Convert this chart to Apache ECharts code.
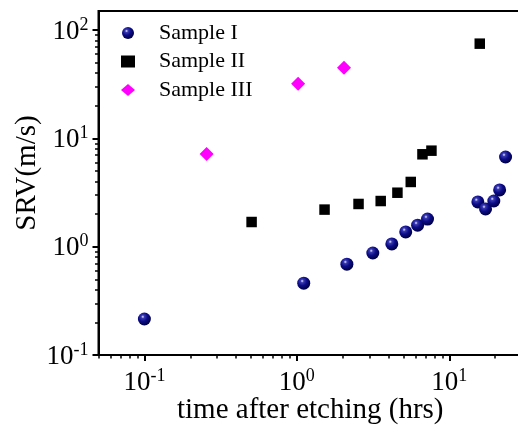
<!DOCTYPE html>
<html><head><meta charset="utf-8">
<script src="https://cdn.jsdelivr.net/npm/echarts@6/dist/echarts.min.js"></script>
<style>html,body{margin:0;padding:0;background:#fff}#c{width:518px;height:426px}</style>
</head><body><div id="c"></div>
<script>
// Data (time in hrs, SRV in m/s)
const s1Time = [0.1, 1.11, 2.13, 3.15, 4.2, 5.18, 6.2, 7.2, 15.4, 17.3, 19.6, 21.4, 23.4];
const s1Srv  = [0.215, 0.46, 0.69, 0.875, 1.06, 1.37, 1.58, 1.8, 2.59, 2.23, 2.64, 3.34, 6.73];
const s2Time = [0.505, 1.52, 2.54, 3.55, 4.57, 5.59, 6.67, 7.64, 15.85];
const s2Srv  = [1.69, 2.2, 2.48, 2.64, 3.15, 3.96, 7.13, 7.7, 74.9];
const s3Time = [0.256, 1.02, 2.04];
const s3Srv  = [7.18, 32.0, 45.0];
const seriesNames = ['Sample I', 'Sample II', 'Sample III'];
const xMajor = [0.1, 1, 10];
const yMajor = [0.1, 1, 10, 100];
const xMinor = [0.05,0.06,0.07,0.08,0.09,0.2,0.3,0.4,0.5,0.6,0.7,0.8,0.9,2,3,4,5,6,7,8,9,20,30];
const yMinor = [0.2,0.3,0.4,0.5,0.6,0.7,0.8,0.9,2,3,4,5,6,7,8,9,20,30,40,50,60,70,80,90];

const zip = (a, b) => a.map((v, i) => [v, b[i]]);
const FONT = 'Liberation Serif';
const supFmt = v => {
  const e = Math.round(Math.log10(v));
  if (Math.abs(Math.log10(v) - e) > 1e-6) return '';
  return '{b|10}{s|' + e + '}';
};
const rich = {
  b: {fontFamily: FONT, fontSize: 27, color: '#000', verticalAlign: 'bottom', lineHeight: 30},
  s: {fontFamily: FONT, fontSize: 18, color: '#000', verticalAlign: 'bottom', lineHeight: 30, padding: [0, 0, 11, 0]}
};
const sphere = {
  type: 'radial', x: 0.38, y: 0.33, r: 0.65,
  colorStops: [
    {offset: 0, color: '#e8e8ff'},
    {offset: 0.2, color: '#3838b0'},
    {offset: 0.55, color: '#0c0c88'},
    {offset: 1, color: '#000048'}
  ]
};
const axisCommon = {type: 'log', logBase: 10, min: 0.05, max: 30};
const yCommon = {type: 'log', logBase: 10, min: 0.1, max: 150};

const chart = echarts.init(document.getElementById('c'), null, {renderer: 'canvas'});
chart.setOption({
  animation: false,
  backgroundColor: '#fff',
  grid: {left: 98.5, top: 11, right: -4, bottom: 71, show: true, borderColor: '#000', borderWidth: 2,
         backgroundColor: 'transparent', containLabel: false, outerBoundsMode: 'none'},
  legend: {
    orient: 'vertical', left: 116, top: 17, itemWidth: 14, itemHeight: 12, itemGap: 6.5,
    textStyle: {fontFamily: FONT, fontSize: 22, color: '#000', lineHeight: 22, padding: [0, 0, 0, 19]},
    data: seriesNames
  },
  xAxis: [
    Object.assign({}, axisCommon, {
      position: 'bottom',
      name: 'time after etching (hrs)', nameLocation: 'middle', nameGap: 41, nameMoveOverlap: false,
      nameTextStyle: {fontFamily: FONT, fontSize: 29, color: '#000'},
      axisLine: {show: true, lineStyle: {color: '#000', width: 2}},
      axisTick: {show: true, inside: false, length: 6, lineStyle: {color: '#000', width: 2}, customValues: xMajor},
      axisLabel: {show: true, margin: 11, formatter: supFmt, rich: rich, customValues: xMajor},
      splitLine: {show: false}, minorTick: {show: false}
    }),
    Object.assign({}, axisCommon, {
      position: 'bottom',
      axisLine: {show: false},
      axisTick: {show: true, inside: false, length: 3.5, lineStyle: {color: '#000', width: 1.5}, customValues: xMinor},
      axisLabel: {show: false},
      splitLine: {show: false}
    })
  ],
  yAxis: [
    Object.assign({}, yCommon, {
      position: 'left',
      name: 'SRV(m/s)', nameLocation: 'middle', nameGap: 57, nameRotate: 90, nameMoveOverlap: false,
      nameTextStyle: {fontFamily: FONT, fontSize: 29, color: '#000', padding: [0, 0, 0, 20]},
      axisLine: {show: true, lineStyle: {color: '#000', width: 2}},
      axisTick: {show: true, inside: false, length: 6, lineStyle: {color: '#000', width: 2}, customValues: yMajor},
      axisLabel: {show: true, margin: 10, formatter: supFmt, rich: rich, customValues: yMajor},
      splitLine: {show: false}, minorTick: {show: false}
    }),
    Object.assign({}, yCommon, {
      position: 'left',
      axisLine: {show: false},
      axisTick: {show: true, inside: false, length: 3.5, lineStyle: {color: '#000', width: 1.5}, customValues: yMinor},
      axisLabel: {show: false},
      splitLine: {show: false}
    })
  ],
  series: [
    {name: seriesNames[0], type: 'scatter', data: zip(s1Time, s1Srv), symbol: 'circle', symbolSize: 13,
     itemStyle: {color: sphere, opacity: 1}},
    {name: seriesNames[1], type: 'scatter', data: zip(s2Time, s2Srv), symbol: 'rect', symbolSize: 10.5,
     itemStyle: {color: '#000', opacity: 1}},
    {name: seriesNames[2], type: 'scatter', data: zip(s3Time, s3Srv), symbol: 'diamond', symbolSize: 14,
     itemStyle: {color: '#ff00ff', opacity: 1}}
  ]
});
</script></body></html>
